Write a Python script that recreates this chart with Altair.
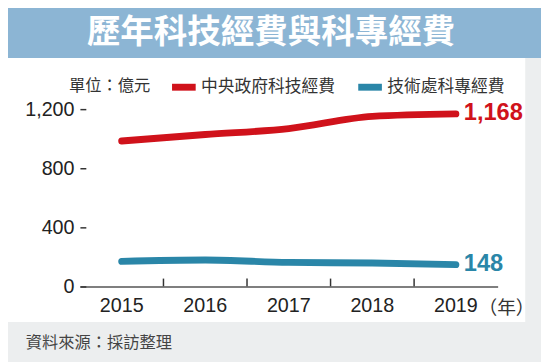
import altair as alt
import pandas as pd

years = ["2015", "2016", "2017", "2018", "2019"]
central_gov = [984, 1028, 1068, 1151, 1168]
doit = [170, 179, 163, 159, 148]
series_names = ["中央政府科技經費", "技術處科專經費"]
series_colors = ["#d0121b", "#2a86a8"]
tick_years = ["2016", "2017", "2018", "2019"]
y_ticks = [0, 400, 800, 1200]

title_text = "歷年科技經費與科專經費"
unit_text = "單位：億元"
source_text = "資料來源：採訪整理"
year_unit = "（年）"

rows = []
for i, y in enumerate(years):
    rows.append({"year": y, "series": series_names[0], "value": central_gov[i]})
    rows.append({"year": y, "series": series_names[1], "value": doit[i]})
df = pd.DataFrame(rows)
last = df[df["year"] == years[-1]]
ticks_df = pd.DataFrame({"year": tick_years})
one = pd.DataFrame({"a": [0]})

W, H = 424, 180
CJK = "Noto Sans CJK TC"
NUM = "Liberation Sans, Arial, sans-serif"

xscale = alt.Scale(type="band", paddingInner=0, paddingOuter=0, domain=years)
yscale = alt.Scale(domain=[0, 1200], nice=False)
color_scale = alt.Scale(domain=series_names, range=series_colors)

x_axis = alt.Axis(title=year_unit, titleAngle=0, titleAlign="left", titleBaseline="middle",
                  titleX=404, titleY=21, titleFont=CJK, titleFontSize=19, titleFontWeight="normal",
                  titleColor="#333", zindex=1, bandPosition=0.5, labelAlign="center",
                  labelFont=NUM, labelFontSize=20, labelColor="#222", labelAngle=0,
                  labelPadding=9, ticks=False, domainColor="#555", domainWidth=1.5)
y_axis = alt.Axis(title=None, values=y_ticks, labelExpr="format(datum.value, ',')",
                  grid=False, domain=False,
                  offset=-6, tickSize=6, tickWidth=1.5, tickColor="#333", zindex=1,
                  labelPadding=6, labelFont=NUM, labelFontSize=20, labelColor="#222")

band = alt.Chart(one).mark_rect(color="#8cb5d4").encode(
    x=alt.value(-81), x2=alt.value(470), y=alt.value(-110), y2=alt.value(-52)
)
panel = alt.Chart(one).mark_rect(color="white").encode(
    x=alt.value(-76), x2=alt.value(452), y=alt.value(-52), y2=alt.value(216)
)
title = alt.Chart(one).mark_text(align="center", baseline="middle", font=CJK, fontSize=34,
                                  fontWeight="bold", color="white", text=title_text).encode(
    x=alt.value(194), y=alt.value(-77)
)

lines = alt.Chart(df).mark_line(strokeWidth=7, strokeCap="round", interpolate="monotone").encode(
    x=alt.X("year:N", scale=xscale, sort=years, axis=x_axis),
    y=alt.Y("value:Q", scale=yscale, axis=y_axis),
    color=alt.Color("series:N", scale=color_scale,
                    legend=alt.Legend(title=unit_text, orient="none", legendX=-11, legendY=-38,
                                      direction="horizontal", titleOrient="left", zindex=1,
                                      titleFont=CJK, titleFontSize=16.5, titleFontWeight="normal",
                                      titleColor="#333", titlePadding=18,
                                      labelFont=CJK, labelFontSize=17, labelColor="#333",
                                      labelOffset=2, columnPadding=9,
                                      symbolType="stroke", symbolStrokeWidth=7, symbolSize=576)),
)

# small upward tick marks between the years, standing on the x axis line
xticks = alt.Chart(ticks_df).mark_rule(color="#333", strokeWidth=1.5).encode(
    x=alt.X("year:N", scale=xscale, sort=years, bandPosition=0, axis=x_axis),
    y=alt.value(H), y2=alt.value(H - 8),
)

end_labels = alt.Chart(last).mark_text(align="left", baseline="middle", dx=8, dy=-1,
                                        font=NUM, fontSize=24, fontWeight="bold").encode(
    x=alt.X("year:N", scale=xscale, sort=years, axis=x_axis),
    y=alt.Y("value:Q", scale=yscale, axis=y_axis),
    text=alt.Text("value:Q", format=","),
    color=alt.Color("series:N", scale=color_scale, legend=None),
)

footer = alt.Chart(one).mark_text(align="left", baseline="middle", font=CJK, fontSize=16.5,
                                   color="#444", text=source_text).encode(
    x=alt.value(-55), y=alt.value(237)
)

chart = alt.layer(band, panel, title, lines, xticks, end_labels, footer).properties(
    width=W, height=H,
    autosize=alt.AutoSizeParams(type="none"),
    padding={"left": 73, "top": 100, "right": 44, "bottom": 74},
    background="#eceeef",
).configure_view(stroke=None)

chart.save("out.html", embed_options={"renderer": "svg", "actions": False})
